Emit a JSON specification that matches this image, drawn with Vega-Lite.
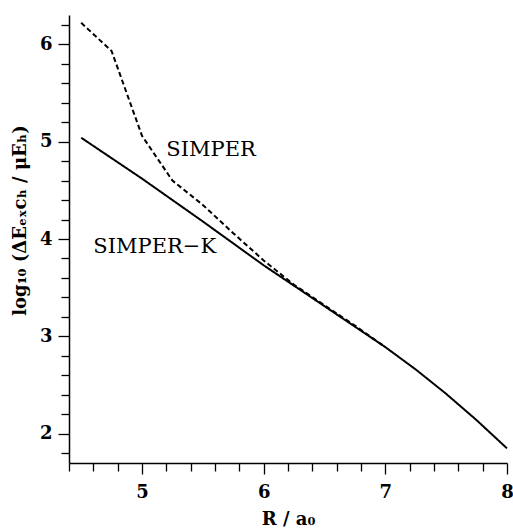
{
  "$schema": "https://vega.github.io/schema/vega-lite/v6.json",
  "autosize": {"type": "none"},
  "padding": {"left": 69, "top": 15, "right": 6, "bottom": 67},
  "width": 438,
  "height": 448,
  "background": "white",
  "config": {
    "view": {"stroke": null},
    "axis": {
      "grid": false,
      "domainColor": "black",
      "domainWidth": 1.5,
      "tickColor": "black",
      "tickWidth": 1.3,
      "labelFont": "DejaVu Serif",
      "labelFontWeight": "bold",
      "labelFontSize": 18,
      "labelColor": "black",
      "titleFont": "DejaVu Serif",
      "titleFontWeight": "bold",
      "titleFontSize": 18,
      "titleColor": "black"
    }
  },
  "datasets": {
    "curves": [
      {"R": 4.5, "v": 5.04, "series": "SIMPER-K"},
      {"R": 5.0, "v": 4.62, "series": "SIMPER-K"},
      {"R": 5.5, "v": 4.18, "series": "SIMPER-K"},
      {"R": 6.0, "v": 3.73, "series": "SIMPER-K"},
      {"R": 6.5, "v": 3.31, "series": "SIMPER-K"},
      {"R": 6.75, "v": 3.1, "series": "SIMPER-K"},
      {"R": 7.0, "v": 2.89, "series": "SIMPER-K"},
      {"R": 7.25, "v": 2.66, "series": "SIMPER-K"},
      {"R": 7.5, "v": 2.41, "series": "SIMPER-K"},
      {"R": 7.75, "v": 2.14, "series": "SIMPER-K"},
      {"R": 8.0, "v": 1.85, "series": "SIMPER-K"},
      {"R": 4.5, "v": 6.22, "series": "SIMPER"},
      {"R": 4.75, "v": 5.93, "series": "SIMPER"},
      {"R": 5.0, "v": 5.06, "series": "SIMPER"},
      {"R": 5.25, "v": 4.6, "series": "SIMPER"},
      {"R": 5.5, "v": 4.35, "series": "SIMPER"},
      {"R": 5.75, "v": 4.06, "series": "SIMPER"},
      {"R": 6.0, "v": 3.78, "series": "SIMPER"},
      {"R": 6.25, "v": 3.53, "series": "SIMPER"},
      {"R": 6.5, "v": 3.32, "series": "SIMPER"},
      {"R": 6.75, "v": 3.11, "series": "SIMPER"},
      {"R": 7.0, "v": 2.89, "series": "SIMPER"}
    ],
    "labels": [
      {"R": 5.2, "v": 4.91, "text": "SIMPER"},
      {"R": 4.6, "v": 3.92, "text": "SIMPER−K"}
    ]
  },
  "layer": [
    {
      "data": {"name": "curves"},
      "mark": {"type": "line", "color": "black", "strokeWidth": 2},
      "encoding": {
        "x": {
          "field": "R", "type": "quantitative",
          "scale": {"domain": [4.4, 8.0], "nice": false, "zero": false},
          "axis": {
            "title": "R / a₀",
            "values": [4.4, 4.6, 4.8, 5, 5.2, 5.4, 5.6, 5.8, 6, 6.2, 6.4, 6.6, 6.8, 7, 7.2, 7.4, 7.6, 7.8, 8],
            "tickCount": 100,
            "labelExpr": "datum.value % 1 === 0 ? format(datum.value, 'd') : ''",
            "labelOverlap": false,
            "tickSize": {"condition": {"test": "datum.value % 1 === 0", "value": 11}, "value": 8},
            "labelPadding": 9,
            "titlePadding": 9,
            "labelFlush": false
          }
        },
        "y": {
          "field": "v", "type": "quantitative",
          "scale": {"domain": [1.7, 6.3], "nice": false, "zero": false},
          "axis": {
            "title": "log₁₀ (ΔEₑₓcₕ / μEₕ)",
            "values": [1.8, 2, 2.2, 2.4, 2.6, 2.8, 3, 3.2, 3.4, 3.6, 3.8, 4, 4.2, 4.4, 4.6, 4.8, 5, 5.2, 5.4, 5.6, 5.8, 6, 6.2],
            "tickCount": 100,
            "labelExpr": "datum.value % 1 === 0 ? format(datum.value, 'd') : ''",
            "labelOverlap": false,
            "tickSize": {"condition": {"test": "datum.value % 1 === 0", "value": 11}, "value": 8},
            "labelPadding": 6,
            "titlePadding": 10,
            "titleY": 205,
            "labelFlush": false
          }
        },
        "detail": {"field": "series"},
        "strokeDash": {
          "field": "series", "type": "nominal",
          "scale": {"domain": ["SIMPER-K", "SIMPER"], "range": [[1, 0], [5, 3]]},
          "legend": null
        }
      }
    },
    {
      "data": {"name": "labels"},
      "mark": {"type": "text", "align": "left", "baseline": "middle", "font": "DejaVu Serif", "fontSize": 21, "color": "black"},
      "encoding": {
        "x": {"field": "R", "type": "quantitative"},
        "y": {"field": "v", "type": "quantitative"},
        "text": {"field": "text"}
      }
    }
  ]
}
